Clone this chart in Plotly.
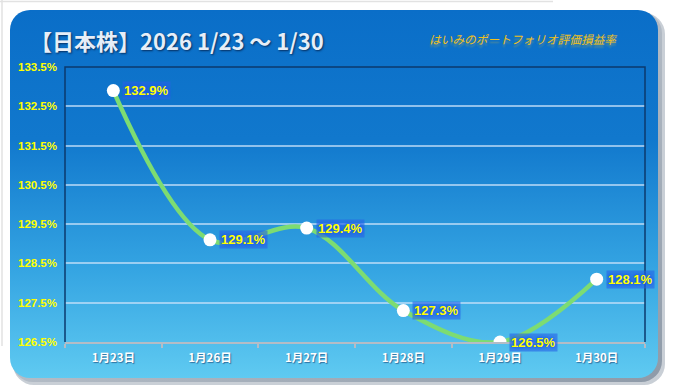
import base64
import plotly.graph_objects as go

# ---- data ----
dates = ["1月23日", "1月26日", "1月27日", "1月28日", "1月29日", "1月30日"]
values = [132.9, 129.1, 129.4, 127.3, 126.5, 128.1]
y_ticks = [126.5, 127.5, 128.5, 129.5, 130.5, 131.5, 132.5, 133.5]
y_tick_labels = [f"{v:.1f}%" for v in y_ticks]
value_labels = [f"{v:.1f}%" for v in values]

title_text = "【日本株】2026 1/23 〜 1/30"
subtitle_text = "はいみのポートフォリオ評価損益率"

W, H = 674, 392
L, R, T, B = 65, 29, 67, 50
PW, PH = W - L - R, H - T - B

svg = f"""<svg xmlns="http://www.w3.org/2000/svg" width="{W}" height="{H}" viewBox="0 0 {W} {H}">
<defs>
<linearGradient id="g" x1="0" y1="0" x2="0" y2="1">
<stop offset="0" stop-color="#0A6EC8"/>
<stop offset="0.35" stop-color="#1178CD"/>
<stop offset="0.7" stop-color="#34A4E2"/>
<stop offset="1" stop-color="#5FCAF1"/>
</linearGradient>
<linearGradient id="s" x1="0" y1="0" x2="1" y2="1">
<stop offset="0" stop-color="#D8DDE3"/>
<stop offset="1" stop-color="#8E9AA8"/>
</linearGradient>
</defs>
<rect width="{W}" height="{H}" fill="#ffffff"/>
<line x1="0" y1="1.5" x2="553" y2="1.5" stroke="#E2E2E2" stroke-width="1.5"/>
<line x1="2" y1="0" x2="2" y2="346" stroke="#E2E2E2" stroke-width="1.5"/>
<rect x="13" y="13" width="652" height="372" rx="21" fill="#C9CFD6"/>
<rect x="12" y="12" width="650" height="370" rx="21" fill="url(#s)"/>
<rect x="10" y="10" width="648" height="368" rx="20" fill="url(#g)"/>
</svg>"""
svg_uri = "data:image/svg+xml;base64," + base64.b64encode(svg.encode("utf-8")).decode()

fig = go.Figure()

fig.add_trace(go.Scatter(
    x=dates, y=values,
    mode="lines",
    line=dict(color="#7DDC72", width=4.5, shape="spline", smoothing=1.0),
    hoverinfo="skip", showlegend=False,
))
fig.add_trace(go.Scatter(
    x=dates, y=values,
    mode="markers",
    marker=dict(color="#FFFFFF", size=13, line=dict(width=0)),
    showlegend=False,
))

label_annotations = [
    dict(x=d, y=v, xref="x", yref="y", text=t, showarrow=False,
         xanchor="left", yanchor="middle", xshift=9,
         bgcolor="rgba(40,100,230,0.6)", borderpad=1,
         font=dict(family="Liberation Sans, Arial, sans-serif", size=13,
                   color="#FFFF00", weight="bold",
                   shadow="0px 0px 2px #1E5CE6, 0px 0px 3px #1E5CE6, 0px 0px 4px #1E5CE6"))
    for d, v, t in zip(dates, values, value_labels)
]

fig.update_layout(
    width=W, height=H,
    margin=dict(l=L, r=R, t=T, b=B, pad=0),
    paper_bgcolor="#ffffff",
    plot_bgcolor="rgba(0,0,0,0)",
    images=[dict(
        source=svg_uri, xref="paper", yref="paper",
        x=-L / PW, y=1 + T / PH, sizex=W / PW, sizey=H / PH,
        xanchor="left", yanchor="top", sizing="stretch", layer="below",
    )],
    xaxis=dict(
        type="category",
        range=[-0.5, len(dates) - 0.5],
        tickson="boundaries",
        ticks="outside", ticklen=4, tickcolor="#B4BCC6", tickwidth=1.5,
        showline=True, linecolor="#B4BCC6", linewidth=2,
        showgrid=False, zeroline=False,
        ticklabelstandoff=4,
        tickfont=dict(family="Noto Sans CJK JP, sans-serif", size=11.5, color="#FFFFFF",
                      weight="bold", shadow="1px 1px 1px rgba(20,60,110,0.6)"),
        fixedrange=True,
    ),
    yaxis=dict(
        range=[126.5, 133.5],
        tickvals=y_ticks, ticktext=y_tick_labels,
        showgrid=True, gridcolor="rgba(200,225,250,0.7)", gridwidth=1.5,
        zeroline=False, showline=False,
        ticks="", ticklabelstandoff=7,
        tickfont=dict(family="Liberation Sans, Arial, sans-serif", size=11.5,
                      color="#FFFF00", weight="bold"),
        fixedrange=True,
    ),
    shapes=[
        dict(type="path", xref="paper", yref="paper",
             path="M 0 0 L 0 1 L 1 1 L 1 0",
             line=dict(color="#0B3A6E", width=1.5), layer="above"),
    ],
    annotations=[
        dict(text=title_text, xref="paper", yref="paper",
             x=(28 - L) / PW, y=(H - B - 40) / PH, xanchor="left", yanchor="middle",
             showarrow=False,
             font=dict(family="Noto Sans CJK JP, sans-serif", size=22, color="#E6EEF8",
                       weight="bold", shadow="1px 1px 2px rgba(5,30,70,0.8)")),
        dict(text=subtitle_text, xref="paper", yref="paper",
             x=(427 - L) / PW, y=(H - B - 38) / PH, xanchor="left", yanchor="middle",
             showarrow=False,
             font=dict(family="Noto Sans CJK JP, sans-serif", size=11.7, color="#F0C020",
                       style="italic", shadow="0px 3px 2px rgba(240,200,40,0.35)")),
    ] + label_annotations,
)

fig.write_html("out.html", config={"displayModeBar": False},
               post_script="document.body.style.margin='0px';document.body.style.padding='0px';")
